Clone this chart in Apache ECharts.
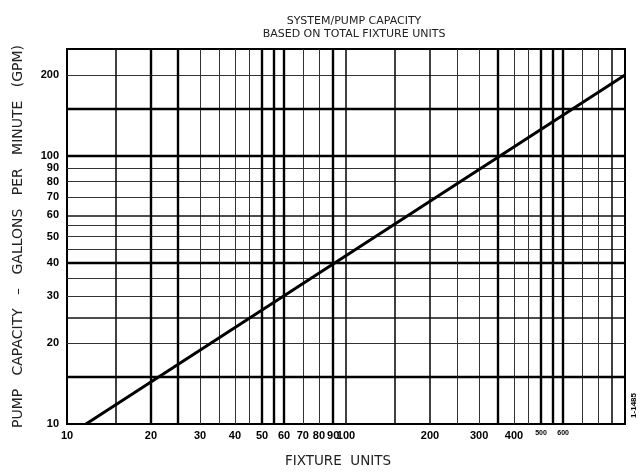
<!DOCTYPE html>
<html>
<head>
<meta charset="utf-8">
<script src="https://cdn.jsdelivr.net/npm/echarts@6/dist/echarts.min.js"></script>
<style>
  html, body { margin: 0; padding: 0; background: #fff; }
  #chart { width: 642px; height: 473px; }
</style>
</head>
<body>
<div id="chart"></div>
<script>
// Fixture units (x) and pump capacity in GPM (y) along the sizing line
const fixtureUnits = [11.7, 1000];
const capacityGpm = [10, 200];

// Tick labels on both log axes
const xTickLabels = [10, 20, 30, 40, 50, 60, 70, 80, 90, 100, 200, 300, 400, 500, 600];
const yTickLabels = [10, 20, 30, 40, 50, 60, 70, 80, 90, 100, 200];
const xSmallLabels = [500, 600];

// Vertical grid rulings (fixture units), grouped by pen weight
const xHeavyLines = [20, 25, 50, 55, 60, 90, 350, 500, 550, 600];
const xMediumLines = [15, 100, 150, 200, 900];
const xLightLines = [30, 35, 40, 45, 70, 80, 250, 300, 400, 450, 700, 800];

// Horizontal grid rulings (GPM), grouped by pen weight
const yHeavyLines = [15, 40, 100, 150];
const yMediumLines = [25, 60];
const yLightLines = [20, 30, 35, 45, 50, 55, 70, 80, 90, 200];

const chart = echarts.init(document.getElementById('chart'), null, { renderer: 'canvas' });

function rulings(name, xs, ys, width, color) {
  const data = xs.map(v => ({ xAxis: v })).concat(ys.map(v => ({ yAxis: v })));
  return {
    name: name,
    type: 'line',
    data: [],
    silent: true,
    z: 1,
    markLine: {
      silent: true,
      symbol: ['none', 'none'],
      label: { show: false },
      animation: false,
      lineStyle: { type: 'solid', width: width, color: color },
      data: data
    }
  };
}

const labelFont = 'Liberation Sans, Arial, sans-serif';
const cadFont = 'DejaVu Sans, sans-serif';

chart.setOption({
  animation: false,
  backgroundColor: '#fff',
  title: {
    text: 'SYSTEM/PUMP CAPACITY\nBASED ON TOTAL FIXTURE UNITS',
    left: 349,
    top: 10,
    textAlign: 'center',
    textStyle: {
      fontFamily: cadFont,
      fontWeight: 'normal',
      fontSize: 11,
      lineHeight: 13,
      color: '#222'
    }
  },
  grid: {
    left: 67,
    right: 17,
    top: 49,
    bottom: 47,
    show: true,
    borderColor: '#000',
    borderWidth: 2,
    backgroundColor: 'transparent'
  },
  xAxis: {
    type: 'log',
    logBase: 10,
    min: 10,
    max: 1000,
    name: 'FIXTURE  UNITS',
    nameLocation: 'middle',
    nameGap: 30,
    nameTextStyle: { fontFamily: cadFont, fontSize: 13.5, color: '#222', padding: [0, 16, 0, 0] },
    axisLine: { show: false },
    axisTick: { show: false },
    splitLine: { show: false },
    axisLabel: {
      customValues: xTickLabels,
      fontFamily: labelFont,
      fontWeight: 'bold',
      fontSize: 11,
      color: '#000',
      margin: 6,
      formatter: v => xSmallLabels.indexOf(Math.round(v)) >= 0 ? '{s|' + Math.round(v) + '}' : String(Math.round(v)),
      rich: { s: { fontSize: 7, fontWeight: 'bold', fontFamily: labelFont, color: '#000' } }
    }
  },
  yAxis: {
    type: 'log',
    logBase: 10,
    min: 10,
    max: 250,
    name: 'PUMP   CAPACITY   –   GALLONS   PER   MINUTE   (GPM)',
    nameLocation: 'middle',
    nameRotate: 90,
    nameGap: 42,
    nameTextStyle: { fontFamily: cadFont, fontSize: 14, color: '#222' },
    axisLine: { show: false },
    axisTick: { show: false },
    splitLine: { show: false },
    axisLabel: {
      customValues: yTickLabels,
      fontFamily: labelFont,
      fontWeight: 'bold',
      fontSize: 11,
      color: '#000',
      margin: 8,
      formatter: v => String(Math.round(v))
    }
  },
  graphic: [
    {
      type: 'text',
      left: 630,
      top: 393,
      rotation: Math.PI / 2,
      style: { text: '1-1485', fontSize: 8, fontWeight: 'bold', fontFamily: labelFont, fill: '#000' }
    }
  ],
  series: [
    rulings('light', xLightLines, yLightLines, 1, '#333'),
    rulings('medium', xMediumLines, yMediumLines, 1.6, '#111'),
    rulings('heavy', xHeavyLines, yHeavyLines, 2.4, '#000'),
    {
      name: 'capacity',
      type: 'line',
      z: 5,
      showSymbol: false,
      symbol: 'none',
      lineStyle: { color: '#000', width: 3 },
      data: fixtureUnits.map((u, i) => [u, capacityGpm[i]])
    }
  ]
});
</script>
</body>
</html>
